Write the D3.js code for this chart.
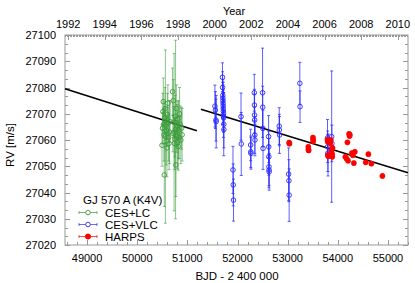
<!DOCTYPE html>
<html>
<head>
<meta charset="utf-8">
<script src="https://cdn.jsdelivr.net/npm/d3@7"></script>
<style>
  body { margin: 0; padding: 0; background: #fff; }
  svg { display: block; font-family: "Liberation Sans", Arial, sans-serif; }
</style>
</head>
<body>
<svg id="chart" width="415" height="283"></svg>
<script>
// CES+LC (green)
const lcJd = [50495, 50505, 50512, 50520, 50528, 50535, 50540, 50548, 50555, 50562, 50570, 50578, 50585, 50593, 50600, 50612, 50620, 50628, 50635, 50645, 50655,
  50705, 50712, 50720, 50728, 50735, 50742, 50750, 50758, 50765, 50772, 50780, 50788, 50795, 50803, 50810, 50818, 50825, 50835, 50845, 50855, 50870, 50885, 50895];
const lcRv = [27058.0, 27064.5, 27070.8, 27074.6, 27066.0, 27062.0, 27046.7, 27068.5, 27072.0, 27061.3, 27065.5, 27059.5, 27063.5, 27057.0, 27069.8, 27074.0, 27066.5, 27061.0, 27058.7, 27063.0, 27067.0,
  27078.4, 27062.5, 27075.0, 27066.8, 27063.0, 27058.7, 27060.5, 27069.0, 27064.0, 27050.5, 27072.0, 27061.3, 27065.5, 27059.0, 27068.0, 27057.5, 27063.8, 27061.0, 27070.0, 27066.0, 27060.0, 27064.5, 27062.0];
const lcErr = [8, 6, 7, 9, 5, 10, 12, 6, 8, 33, 7, 9, 6, 11, 8, 7, 6, 9, 10, 12, 8,
  9, 7, 8, 6, 30, 10, 7, 8, 34, 12, 9, 6, 8, 10, 7, 9, 11, 8, 10, 7, 9, 8, 10];

// CES+VLC (blue)
const vlcJd = [51550, 51560, 51570, 51575,
  51700, 51703, 51706, 51708, 51710, 51712, 51714, 51716, 51718, 51720, 51722, 51724, 51726, 51728,
  51910, 51915, 51920,
  52070, 52075,
  52262, 52265, 52268,
  52335, 52338, 52340, 52342, 52345, 52348,
  52500, 52503, 52506, 52509,
  52620, 52623, 52625, 52627, 52629, 52631,
  52832, 52835, 52838,
  53020, 53025, 53030,
  53243, 53247,
  53795, 53798, 53802, 53805,
  53878, 53882];
const vlcRv = [27072.9, 27071.4, 27067.6, 27067.0,
  27083.9, 27080.0, 27077.0, 27076.0, 27075.0, 27074.0, 27073.0, 27072.0, 27071.0, 27070.0, 27069.0, 27068.4, 27066.0, 27064.0,
  27048.6, 27042.9, 27037.1,
  27068.9, 27058.5,
  27058.1, 27055.5, 27054.9,
  27078.0, 27073.3, 27069.5, 27067.6, 27061.9, 27060.0,
  27078.0, 27072.5, 27064.4, 27056.8,
  27061.3, 27057.4, 27053.6, 27049.8, 27048.6, 27047.9,
  27065.3, 27063.8, 27061.9,
  27047.0, 27044.5, 27039.0,
  27081.6, 27072.7,
  27060.8, 27057.4, 27055.0, 27054.3,
  27061.3, 27058.7];
const vlcErr = [8, 7, 8, 10,
  5.5, 6, 5, 7, 6, 8, 5, 6, 7, 9, 6, 5, 12, 7,
  9, 8, 8,
  9, 12,
  6, 6, 6,
  7, 6, 8, 5, 7, 6,
  17, 8, 7, 8,
  8, 6, 7, 8, 6, 7,
  7, 6, 7,
  10, 8, 10,
  8, 6,
  7, 6, 7, 8,
  25, 7];

// HARPS (red)
const hJd = [53031, 53035, 53412, 53415, 53418, 53505, 53508, 53510, 53794, 53800, 53805, 53810, 53850, 53860, 53875, 53880, 53886, 53890, 53895,
  54192, 54225, 54235, 54240, 54150, 54175, 54205, 54280, 54300, 54320, 54340, 54557, 54610, 54670, 54890];
const hRv = [27059.0, 27058.6, 27057.4, 27056.4, 27056.0, 27060.9, 27060.1, 27059.5, 27060.1, 27059.3, 27054.2, 27053.8, 27058.9, 27060.0, 27056.2, 27055.0, 27054.5, 27053.6, 27057.0,
  27059.1, 27062.3, 27061.5, 27062.0, 27053.6, 27052.9, 27052.1, 27055.0, 27054.2, 27051.2, 27055.5, 27051.5, 27054.6, 27051.0, 27046.3];
const hErr = hJd.map(() => 0.7);

// fitted trend, one piece per zero point
const trendLC = [[48560, 27079.5], [51190, 27063.5]];
const trendVLC = [[51270, 27071.7], [55400, 27047.5]];

const yearTicks = [1992, 1994, 1996, 1998, 2000, 2002, 2004, 2006, 2008, 2010];
const jdTicks = [49000, 50000, 51000, 52000, 53000, 54000, 55000];
const rvTicks = [27020, 27030, 27040, 27050, 27060, 27070, 27080, 27090, 27100];

const W = 415, H = 283;
const m = { left: 65, right: 7, top: 35, bottom: 38 };
const svg = d3.select("#chart");
const frame = "#999";

const x = d3.scaleLinear().domain([48560, 55400]).range([m.left, W - m.right]);
const y = d3.scaleLinear().domain([27020, 27100]).range([H - m.bottom, m.top]);
const toYear = jd => 2000 + (jd - 51544.5) / 365.25;
const xy = d3.scaleLinear().domain([toYear(48560), toYear(55400)]).range([m.left, W - m.right]);

const axes = svg.append("g");

// frame
axes.append("rect")
  .attr("x", m.left).attr("y", m.top)
  .attr("width", W - m.left - m.right).attr("height", H - m.top - m.bottom)
  .attr("fill", "none").attr("stroke", frame).attr("stroke-width", 1);

function tick(x1, y1, x2, y2) {
  axes.append("line").attr("x1", x1).attr("y1", y1).attr("x2", x2).attr("y2", y2)
    .attr("stroke", frame).attr("stroke-width", 1);
}

// y ticks, left and right
for (let v = 27020; v <= 27100.01; v += 10 / 3) {
  const major = Math.abs(Math.round(v / 10) * 10 - v) < 0.01;
  const len = major ? 5 : 3;
  const yy = Math.round(y(v)) + 0.5;
  tick(m.left, yy, m.left + len, yy);
  tick(W - m.right, yy, W - m.right - len, yy);
}
// bottom ticks
for (let v = 48600; v <= 55400; v += 200) {
  const major = v % 1000 === 0;
  const xx = Math.round(x(v)) + 0.5;
  tick(xx, H - m.bottom, xx, H - m.bottom - (major ? 5 : 3));
}
// top ticks (years, monthly minor)
for (let k = Math.ceil(toYear(48560) * 12); k <= toYear(55400) * 12; k++) {
  const yr = k / 12;
  const major = k % 24 === 0;
  const xx = Math.round(xy(yr)) + 0.5;
  tick(xx, m.top, xx, m.top + (major ? 5 : 2));
}

svg.append("g").selectAll("text").data(rvTicks).join("text")
  .attr("x", m.left - 9).attr("y", d => y(d) + 4)
  .attr("text-anchor", "end").attr("font-size", 11).text(d => d);
svg.append("g").selectAll("text").data(jdTicks).join("text")
  .attr("x", d => x(d)).attr("y", H - m.bottom + 17)
  .attr("text-anchor", "middle").attr("font-size", 11).text(d => d);
svg.append("g").selectAll("text").data(yearTicks).join("text")
  .attr("x", d => xy(d)).attr("y", m.top - 7)
  .attr("text-anchor", "middle").attr("font-size", 11).text(d => d);

svg.append("text").attr("x", 234).attr("y", 15).attr("text-anchor", "middle")
  .attr("font-size", 11).text("Year");
svg.append("text").attr("x", 237).attr("y", 280).attr("text-anchor", "middle")
  .attr("font-size", 11.5).text("BJD - 2 400 000");
svg.append("text").attr("transform", "translate(14,145) rotate(-90)").attr("text-anchor", "middle")
  .attr("font-size", 11.5).text("RV [m/s]");

// trend lines
const line = d3.line().x(d => x(d[0])).y(d => y(d[1]));
[trendLC, trendVLC].forEach(t => {
  svg.append("path").attr("d", line(t)).attr("fill", "none")
    .attr("stroke", "#000").attr("stroke-width", 1.6);
});

function series(jd, rv, err, color, filled, opacity) {
  const pts = jd.map((d, i) => ({ jd: d, rv: rv[i], err: err[i] }));
  const g = svg.append("g");
  const bars = g.append("g").attr("stroke", color).attr("stroke-opacity", opacity).attr("stroke-width", 1);
  pts.forEach(p => {
    const xx = x(p.jd), y1 = y(p.rv + p.err), y2 = y(p.rv - p.err);
    bars.append("line").attr("x1", xx).attr("x2", xx).attr("y1", y1).attr("y2", y2);
    bars.append("line").attr("x1", xx - 1.5).attr("x2", xx + 1.5).attr("y1", y1).attr("y2", y1);
    bars.append("line").attr("x1", xx - 1.5).attr("x2", xx + 1.5).attr("y1", y2).attr("y2", y2);
  });
  g.append("g").selectAll("circle").data(pts).join("circle")
    .attr("cx", d => x(d.jd)).attr("cy", d => y(d.rv))
    .attr("r", filled ? 2.6 : 2.3)
    .attr("fill", filled ? color : "none")
    .attr("stroke", color).attr("stroke-width", filled ? 0.5 : 0.9);
}

series(lcJd, lcRv, lcErr, "#3c9c3c", false, 0.6);
series(vlcJd, vlcRv, vlcErr, "#2a2aff", false, 0.75);
series(hJd, hRv, hErr, "#ff0000", true, 1);

// legend
const leg = svg.append("g");
leg.append("text").attr("x", 83).attr("y", 204).attr("font-size", 11.5).text("GJ 570 A (K4V)");
const legItems = [
  { name: "CES+LC", color: "#3c9c3c", filled: false },
  { name: "CES+VLC", color: "#2a2aff", filled: false },
  { name: "HARPS", color: "#ff0000", filled: true }
];
legItems.forEach((it, i) => {
  const yy = 212.5 + i * 12;
  leg.append("line").attr("x1", 79).attr("x2", 97).attr("y1", yy).attr("y2", yy)
    .attr("stroke", it.color).attr("stroke-opacity", 0.7);
  [79, 97].forEach(cx => leg.append("line").attr("x1", cx).attr("x2", cx)
    .attr("y1", yy - 1.5).attr("y2", yy + 1.5).attr("stroke", it.color).attr("stroke-opacity", 0.7));
  leg.append("circle").attr("cx", 88).attr("cy", yy).attr("r", it.filled ? 2.6 : 2.3)
    .attr("fill", it.filled ? it.color : "#fff").attr("stroke", it.color).attr("stroke-width", 0.9);
  leg.append("text").attr("x", 105).attr("y", yy + 4).attr("font-size", 11.5).text(it.name);
});
</script>
</body>
</html>
